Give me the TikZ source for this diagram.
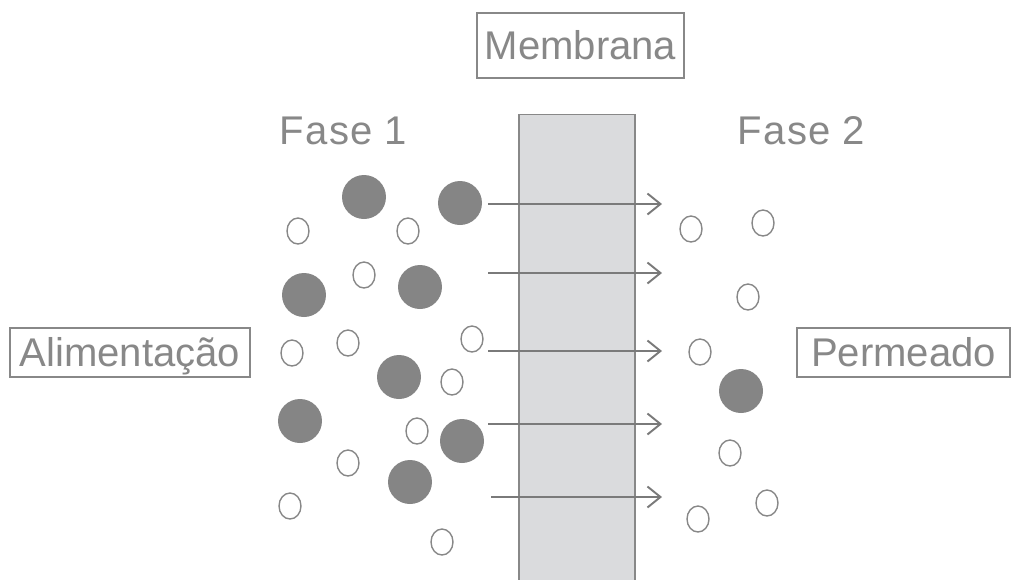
\documentclass[tikz,border=0pt]{standalone}
\usepackage{fontspec}
\setmainfont{Liberation Sans}
\usepackage{xcolor}
\usepackage{tikz}
\usetikzlibrary{shapes.geometric,arrows.meta}

\definecolor{inkgray}{HTML}{888888}
\definecolor{ballgray}{HTML}{858585}
\definecolor{wallgray}{HTML}{DADBDD}

\begin{document}
\begin{tikzpicture}[
    x=0.02cm, y=-0.02cm,
    txt/.style={text=inkgray, font=\fontsize{22.8pt}{26pt}\selectfont, text height=0.57cm, text depth=0cm, inner sep=0pt},
    box/.style={txt, rectangle, draw=inkgray, line width=0.8pt, minimum height=0.98cm},
    wall/.style={rectangle, draw=inkgray, fill=wallgray, line width=0.9pt, minimum width=2.32cm, minimum height=9.5cm, inner sep=0pt},
    bigball/.style={circle, fill=ballgray, minimum size=0.88cm, inner sep=0pt},
    smallball/.style={ellipse, draw=inkgray, line width=0.8pt, fill=white, minimum width=0.44cm, minimum height=0.52cm, inner sep=0pt},
    edge/.style={-{Straight Barb[length=0.26cm, width=0.42cm]}, draw=inkgray!90!black, line width=1.1pt}
]
    \useasboundingbox (0,0) rectangle (1011,579);

    % membrane and labels
    \node[wall] (membrane) at (577,352) {};
    \node[box, minimum width=4.14cm, minimum height=1.3cm] (membrana) at (580.5,45.5) {Membrana};
    \node[box, minimum width=4.8cm] (alim) at (130,352.5) {Alimentação};
    \node[box, minimum width=4.26cm] (perm) at (903.5,352.5) {Permeado};
    \node[txt, font=\fontsize{22.8pt}{26pt}\selectfont\addfontfeature{LetterSpace=3}] (fase1) at (343.5,130) {Fase 1};
    \node[txt, font=\fontsize{22.8pt}{26pt}\selectfont\addfontfeature{LetterSpace=3}] (fase2) at (801.5,130) {Fase 2};

    % flux through the membrane
    \coordinate (s1) at (488,204);  \coordinate (e1) at (662,204);
    \coordinate (s2) at (488,273);  \coordinate (e2) at (662,273);
    \coordinate (s3) at (488,351);  \coordinate (e3) at (662,351);
    \coordinate (s4) at (488,424);  \coordinate (e4) at (662,424);
    \coordinate (s5) at (491,497);  \coordinate (e5) at (662,497);
    \draw[edge] (s1) -- (e1);
    \draw[edge] (s2) -- (e2);
    \draw[edge] (s3) -- (e3);
    \draw[edge] (s4) -- (e4);
    \draw[edge] (s5) -- (e5);

    % large particles
    \node[bigball] (b1) at (364,197) {};
    \node[bigball] (b2) at (460,203) {};
    \node[bigball] (b3) at (304,295) {};
    \node[bigball] (b4) at (420,287) {};
    \node[bigball] (b5) at (399,377) {};
    \node[bigball] (b6) at (300,421) {};
    \node[bigball] (b7) at (462,441) {};
    \node[bigball] (b8) at (410,482) {};
    \node[bigball] (b9) at (741,391) {};

    % small particles, phase 1
    \node[smallball] (p1) at (298,231) {};
    \node[smallball] (p2) at (408,231) {};
    \node[smallball] (p3) at (364,275) {};
    \node[smallball] (p4) at (292,353) {};
    \node[smallball] (p5) at (348,343) {};
    \node[smallball] (p6) at (472,339) {};
    \node[smallball] (p7) at (452,382) {};
    \node[smallball] (p8) at (417,431) {};
    \node[smallball] (p9) at (348,463) {};
    \node[smallball] (p10) at (290,506) {};
    \node[smallball] (p11) at (442,542) {};

    % small particles, phase 2
    \node[smallball] (q1) at (691,229) {};
    \node[smallball] (q2) at (763,223) {};
    \node[smallball] (q3) at (748,297) {};
    \node[smallball] (q4) at (700,352) {};
    \node[smallball] (q5) at (730,453) {};
    \node[smallball] (q6) at (698,519) {};
    \node[smallball] (q7) at (767,503) {};
\end{tikzpicture}
\end{document}
